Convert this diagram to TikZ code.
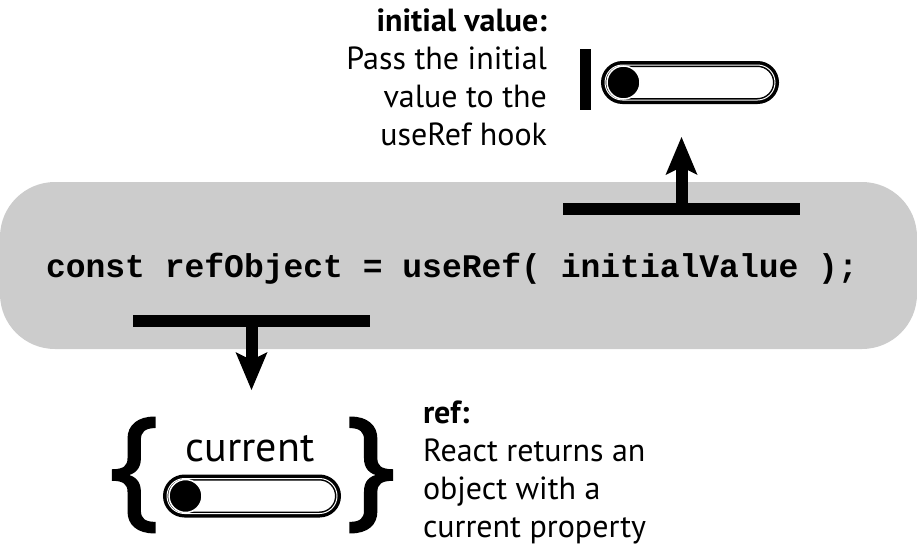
\documentclass[tikz,border=0pt]{standalone}
\usepackage{fontspec}
\setmainfont{PT Sans}
\setmonofont{Liberation Mono}
\newfontfamily\bracefont[FakeBold=2]{Open Sans}
\usetikzlibrary{arrows.meta,shapes.misc}
\definecolor{boxgray}{RGB}{204,204,204}
\tikzstyle{every node}=[inner sep=0pt,outer sep=0pt]
\tikzstyle{note}=[font=\fontsize{32}{38}\selectfont]
\tikzstyle{tbar}=[fill=black,minimum width=237pt,minimum height=12pt]
\tikzstyle{hook}=[line width=12pt,-{Stealth[length=38pt,width=32pt,inset=8pt,line width=0pt]}]
\tikzstyle{pill}=[rounded rectangle,draw,line width=6pt,minimum width=172pt,minimum height=37pt]
\tikzstyle{pillline}=[rounded rectangle,draw=white,line width=1pt,minimum width=170pt,minimum height=35pt]
\tikzstyle{knob}=[circle,fill=black,draw=white,line width=1.5pt,minimum size=33pt]
\tikzstyle{brace}=[font=\bracefont\fontsize{131}{131}\selectfont]

\begin{document}
\begin{tikzpicture}[x=1pt,y=-1pt]
\useasboundingbox (0,0) rectangle (917,557);

% code line
\node[fill=boxgray,rounded corners=55pt,minimum width=917pt,minimum height=167pt] (codebox) at (458.5,265.5) {};
\node[font=\fontsize{33}{33}\selectfont\ttfamily\bfseries,anchor=base] (code) at (452,277) {const refObject = useRef( initialValue );};

% the two T markers
\node[tbar] (initbar) at (681.5,209) {};
\node[tbar] (refbar) at (251.5,321) {};
\coordinate (inittip) at (681.5,137);
\coordinate (reftip) at (251.5,390);
\draw[hook] (initbar.north) -- (inittip);
\draw[hook] (refbar.south) -- (reftip);

% initial value
\node[fill=black,minimum width=11pt,minimum height=61pt] (initstop) at (585,79.5) {};
\node[pill] (initswitch) at (690,82.5) {};
\node[pillline] (initline) at (initswitch) {};
\node[knob] (initknob) at (623.5,82.5) {};
\node[note,align=right,anchor=north east] (initnote) at (547,9) {\textbf{initial value:}\\Pass the initial\\value to the\\useRef hook};

% ref object
\node[brace] (lbrace) at (134,475) {\{};
\node[brace] (rbrace) at (371,475) {\}};
\node[font=\fontsize{42}{42}\selectfont,anchor=base] (current) at (250,461) {current};
\node[pill] (refswitch) at (252,496) {};
\node[pillline] (refline) at (refswitch) {};
\node[knob] (refknob) at (185.5,496) {};
\node[note,align=left,anchor=north west] (refnote) at (423,401) {\textbf{ref:}\\React returns an\\object with a\\current property};

\end{tikzpicture}
\end{document}
